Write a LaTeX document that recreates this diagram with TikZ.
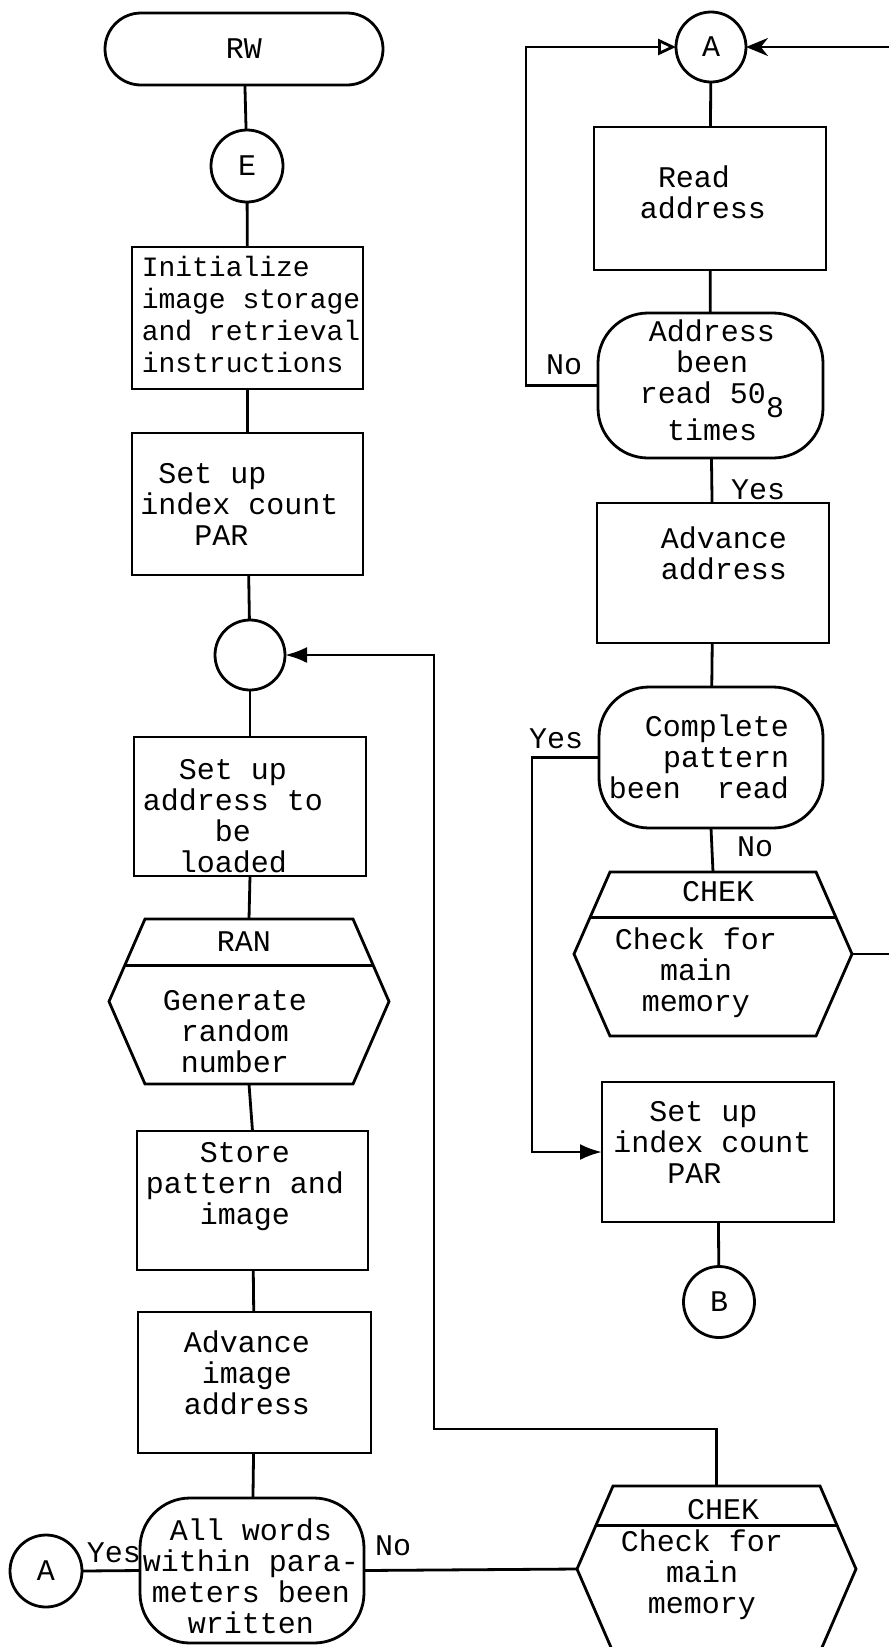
\documentclass[tikz,border=0pt]{standalone}
\usepackage{fontspec}
\setmainfont{Liberation Mono}
\usetikzlibrary{calc,arrows.meta}
\newcommand\fA{\fontsize{30}{31}\selectfont}
\newcommand\fB{\fontsize{28}{32}\selectfont}
\newcommand\hexoutline[3]{%
  \path ($(#1.north west)+(#2,0)$) coordinate (#1-tl)
        ($(#1.north east)+(-#2,0)$) coordinate (#1-tr)
        ($(#1.south west)+(#2,0)$) coordinate (#1-bl)
        ($(#1.south east)+(-#2,0)$) coordinate (#1-br);
  \draw[ln] (#1-tl) -- (#1.west) -- (#1-bl) -- (#1-br) -- (#1.east) -- (#1-tr) -- cycle;
  \draw[ln] ($(#1-tl)!#3!(#1.west)$) -- ($(#1-tr)!#3!(#1.east)$);
}
\begin{document}
\begin{tikzpicture}[x=1pt,y=-1pt,
  ln/.style={line width=2.8pt},
  proc/.style={draw, ln, rectangle, inner sep=0pt, outer sep=0pt},
  dec/.style={draw, ln, rectangle, rounded corners=50pt, inner sep=0pt, outer sep=0pt},
  term/.style={draw, ln, rectangle, rounded corners=36pt, inner sep=0pt, outer sep=0pt, font=\fA},
  conn/.style={draw, ln, circle, inner sep=0pt, outer sep=0pt, font=\fA},
  hexb/.style={rectangle, inner sep=0pt, outer sep=0pt},
  txt/.style={inner sep=0pt, font=\fA, align=center},
  arr/.style={ln, -{Latex[length=22pt,width=16pt]}},
  arrO/.style={ln, -{Triangle[open,length=18pt,width=16pt]}},
  arrS/.style={ln, -{Stealth[length=22pt,width=18pt]}},
]
\useasboundingbox (0,0) rectangle (889,1647);
\clip (0,0) rectangle (889,1647);

% ---------------- left column ----------------
\node[term, minimum width=278pt, minimum height=72pt] (rw) at (244,49) {RW};
\node[conn, minimum size=72pt] (e) at (247,166) {E};
\node[proc, minimum width=231pt, minimum height=142pt] (init) at (247.5,318) {};
\node[proc, minimum width=231pt, minimum height=142pt] (par1) at (247.5,504) {};
\node[conn, minimum size=70pt] (circ) at (250,655) {};
\node[proc, minimum width=232pt, minimum height=139pt] (addr) at (250,806.5) {};
\node[hexb, minimum width=280pt, minimum height=165pt] (ran) at (249,1001.5) {};
\hexoutline{ran}{36}{0.56}
\node[proc, minimum width=231pt, minimum height=139pt] (store) at (252.5,1200.5) {};
\node[proc, minimum width=233pt, minimum height=141pt] (advimg) at (254.5,1382.5) {};
\node[dec, minimum width=224pt, minimum height=145pt] (allw) at (252,1570.5) {};
\node[conn, minimum size=72pt] (aL) at (46,1571) {A};

\node[txt, font=\fB, align=left] (initT) at (251,314) {Initialize\\image storage\\and retrieval\\instructions};
\node[txt, align=left] (par1T) at (239.5,504) {~Set up\\index count\\~~~PAR};
\node[txt] (addrT) at (233,816) {Set up\\address to\\be\\loaded};
\node[txt] (ranT) at (244,942) {RAN};
\node[txt] (ranB) at (235,1032) {Generate\\random\\number};
\node[txt] (storeT) at (245,1187) {Store\\pattern and\\image};
\node[txt] (advimgT) at (247,1373) {Advance\\image\\address};
\node[txt] (allwT) at (251,1576) {All words\\within para-\\meters been\\written};
\node[txt] (yesL) at (114,1553) {Yes};
\node[txt] (noL) at (393,1546) {No};

% ---------------- right column ----------------
\node[conn, minimum size=70pt] (atop) at (711,47) {A};
\node[proc, minimum width=232pt, minimum height=143pt] (read) at (710,198.5) {};
\node[dec, minimum width=225pt, minimum height=145pt] (dec1) at (710.5,385.5) {};
\node[proc, minimum width=232pt, minimum height=140pt] (adv) at (713,573) {};
\node[dec, minimum width=224pt, minimum height=141pt] (dec2) at (711,757.5) {};
\node[hexb, minimum width=278pt, minimum height=164pt] (chek1) at (713,954) {};
\hexoutline{chek1}{36}{0.55}
\node[proc, minimum width=232pt, minimum height=140pt] (setr) at (718,1152) {};
\node[conn, minimum size=71pt] (b) at (719,1302) {B};
\node[hexb, minimum width=279pt, minimum height=166pt] (chek2) at (716.5,1569) {};
\hexoutline{chek2}{36}{0.48}

\node[txt, align=left] (readT) at (703,192) {~Read\\address};
\node[txt] (dec1T) at (712,380) {Address\\been\\read 50\raisebox{-14pt}{8}\\times};
\node[txt] (no1) at (564,365) {No};
\node[txt] (yes1) at (758,490) {Yes};
\node[txt] (advT) at (724,553) {Advance\\address};
\node[txt, align=right] (dec2T) at (699,757) {Complete\\pattern\\been~~read};
\node[txt] (yes2) at (556,739) {Yes};
\node[txt] (no2) at (755,847) {No};
\node[txt] (chek1T) at (718,892) {CHEK};
\node[txt] (chek1B) at (696,973) {Check for\\main\\memory};
\node[txt, align=left] (setrT) at (712.5,1142) {~~Set up\\index count\\~~~PAR};
\node[txt] (chek2T) at (723,1510) {CHEK};
\node[txt] (chek2B) at (702,1575) {Check for\\main\\memory};

% ---------------- connectors ----------------
\draw[ln] (rw) -- (e);
\draw[ln] (e) -- (init);
\draw[ln] (init) -- (par1);
\draw[ln] (par1) -- (circ);
\draw[ln] (circ) -- (addr);
\draw[ln] (addr.south) -- (ran.north);
\draw[ln] (ran.south) -- (store.north);
\draw[ln] (store) -- (advimg);
\draw[ln] (advimg) -- (allw);
\draw[ln] (allw.west) -- (aL.east);
\draw[ln] (allw.east) -- (chek2.west);
\coordinate (turn1) at (434,1429);
\draw[arr] (chek2.north) |- (turn1) |- (circ.east);

\draw[ln] (atop) -- (read);
\draw[ln] (read) -- (dec1);
\draw[ln] (dec1) -- (adv);
\draw[ln] (adv) -- (dec2);
\draw[ln] (dec2.south) -- (chek1.north);
\draw[ln] (setr) -- (b);
\coordinate (loopN) at (526,200);
\draw[arrO] (dec1.west) -| (loopN) |- (atop.west);
\coordinate (loopY) at (532,900);
\draw[arr] (dec2.west) -| (loopY) |- (setr.west);
\coordinate (edgeR) at (899,954);
\draw[arrS] (chek1.east) -- (edgeR) |- (atop.east);
\end{tikzpicture}
\end{document}
